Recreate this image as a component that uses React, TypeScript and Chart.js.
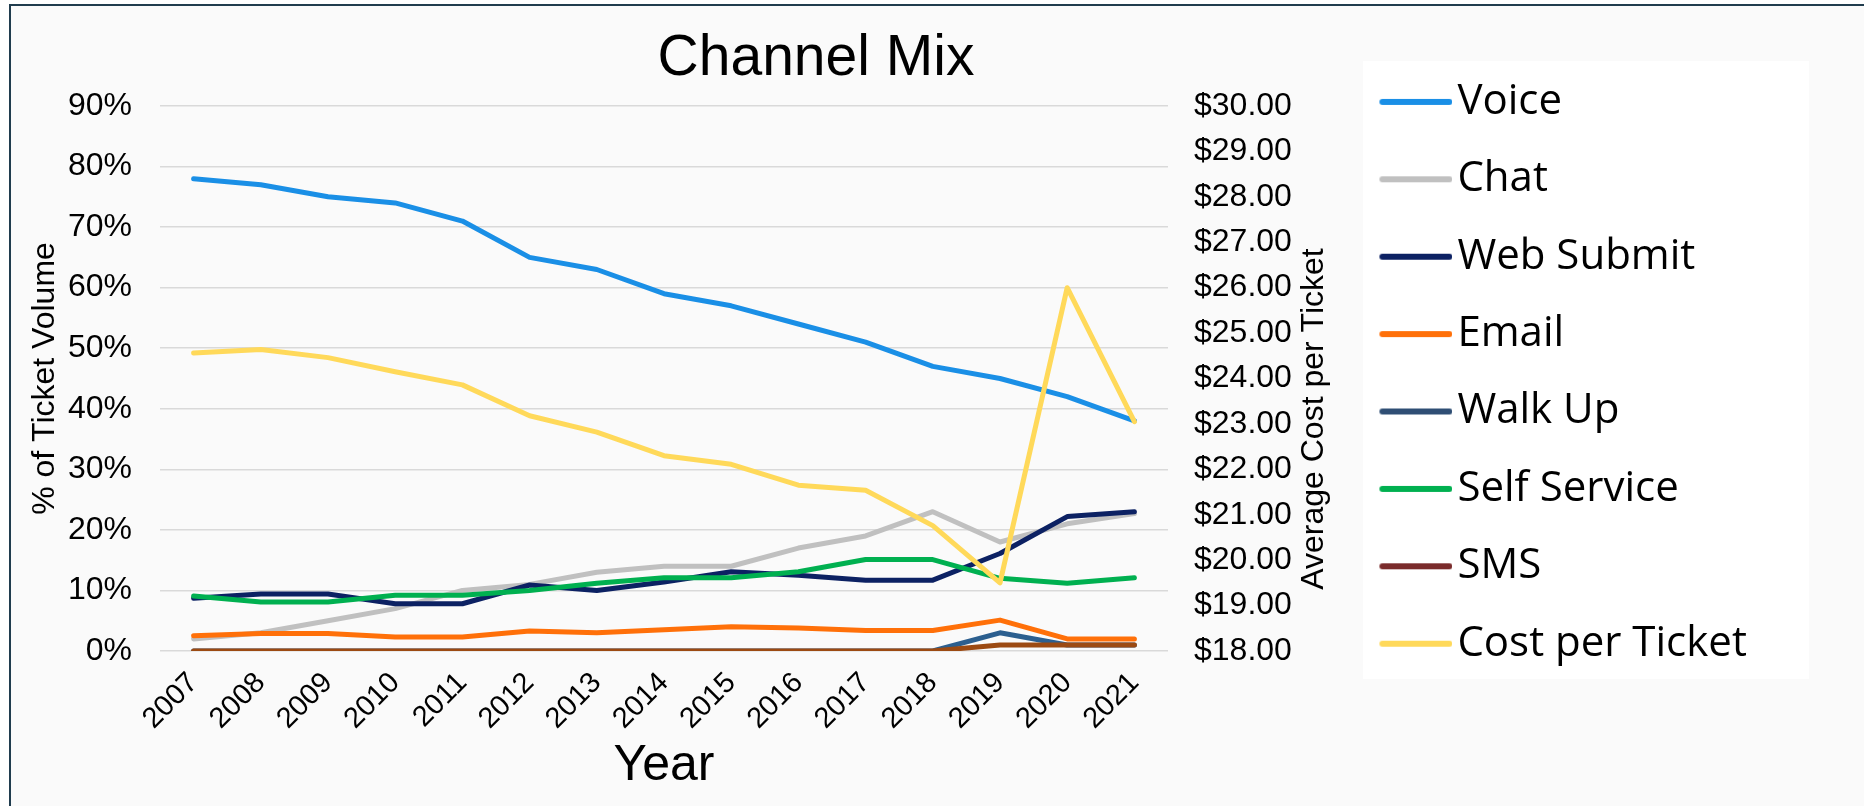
import React, { useEffect, useRef } from 'react';
import { Chart, registerables } from 'chart.js';

Chart.register(...registerables);

const years = ['2007', '2008', '2009', '2010', '2011', '2012', '2013', '2014', '2015', '2016', '2017', '2018', '2019', '2020', '2021'];

const voice = [78, 77, 75, 74, 71, 65, 63, 59, 57, 54, 51, 47, 45, 42, 38];
const chat = [2, 3, 5, 7, 10, 11, 13, 14, 14, 17, 19, 23, 18, 21, 22.7];
const webSubmit = [8.7, 9.4, 9.4, 7.8, 7.8, 10.9, 10, 11.4, 13.1, 12.5, 11.7, 11.7, 16.1, 22.2, 23];
const email = [2.5, 2.9, 2.9, 2.3, 2.3, 3.3, 3.0, 3.5, 4.0, 3.8, 3.4, 3.4, 5.1, 2.0, 2.0];
const walkUp = [0, 0, 0, 0, 0, 0, 0, 0, 0, 0, 0, 0, 3, 1, 1];
const selfService = [9.1, 8.1, 8.1, 9.2, 9.2, 10, 11.2, 12.1, 12.1, 13.1, 15.1, 15.1, 12, 11.2, 12.1];
const sms = [0, 0, 0, 0, 0, 0, 0, 0, 0, 0, 0, 0, 1, 1, 1];
const costPerTicket = [24.56, 24.64, 24.46, 24.15, 23.86, 23.18, 22.82, 22.3, 22.11, 21.65, 21.54, 20.76, 19.5, 26.0, 23.05];

const seriesNames = ['Voice', 'Chat', 'Web Submit', 'Email', 'Walk Up', 'Self Service', 'SMS', 'Cost per Ticket'];
const seriesValues = [voice, chat, webSubmit, email, walkUp, selfService, sms, costPerTicket];
const lineColors = ['#1a8fe6', '#c0c0c0', '#0c2163', '#ff7009', '#2c5f8f', '#00b050', '#9c4a12', '#ffd95a'];
const legendColors = ['#1a8fe6', '#c0c0c0', '#0c2163', '#ff7009', '#2f4e74', '#00b050', '#7a2b2b', '#ffd95a'];

const ARIAL = "'Liberation Sans', Arial, sans-serif";
const LEGEND_FAMILY = "'Open Sans', sans-serif";

function makeLegendImage(color: string): HTMLCanvasElement {
  const c = document.createElement('canvas');
  c.width = 89;
  c.height = 10;
  const g = c.getContext('2d')!;
  g.strokeStyle = color;
  g.lineWidth = 6;
  g.lineCap = 'round';
  g.beginPath();
  g.moveTo(19, 5);
  g.lineTo(86, 5);
  g.stroke();
  return c;
}

export default function App() {
  const ref = useRef<HTMLCanvasElement | null>(null);

  useEffect(() => {
    const canvas = ref.current;
    if (!canvas) return;
    const legendImgs = legendColors.map(makeLegendImage);

    const legendFont = 42;
    const legendPad = 35.4;
    const boxW = 57;
    const legendBoxW = 200; // layout width reserved for the legend
    const legendLeft = 1344;
    const padRight = 1864 - legendLeft - legendBoxW; // 320
    const titleCenter = 816;
    const padLeft = 0;
    const padTop = 45.5;
    const plotLeft = 160;
    const plotRight = 1168;

    const layoutPlugin = {
      id: 'layoutTweaks',
      afterLayout(chart: any) {
        const lg = chart.legend;
        if (lg) {
          lg.right = chart.width;
          lg.width = lg.right - lg.left;
        }
        const t = chart.titleBlock;
        if (t) {
          const d = titleCenter - (t.left + t.right) / 2;
          t.left += d;
          t.right += d;
        }
      },
      beforeDraw(chart: any) {
        const lg = chart.legend;
        if (!lg) return;
        const ctx = chart.ctx;
        ctx.save();
        ctx.fillStyle = '#ffffff';
        ctx.fillRect(lg.left + 19, 61, 446, 618);
        ctx.restore();
      },
    };

    const rightTitlePlugin = {
      id: 'rightTitle',
      afterDraw(chart: any) {
        const s = chart.scales.y1;
        const ctx = chart.ctx;
        ctx.save();
        ctx.translate(s.left + 146, chart.chartArea.top + 313);
        ctx.rotate(-Math.PI / 2);
        ctx.font = `32px ${ARIAL}`;
        ctx.fillStyle = '#000';
        ctx.textAlign = 'center';
        ctx.textBaseline = 'middle';
        ctx.fillText('Average Cost per Ticket', 0, 0);
        ctx.restore();
      },
    };

    const chart = new Chart(canvas, {
      type: 'line',
      data: {
        labels: years,
        datasets: seriesNames.map((name, i) => ({
          label: name,
          data: seriesValues[i],
          borderColor: lineColors[i],
          backgroundColor: lineColors[i],
          borderWidth: 5,
          pointRadius: 0,
          pointHoverRadius: 0,
          borderCapStyle: 'round',
          borderJoinStyle: 'round',
          tension: 0,
          fill: false,
          yAxisID: i === 7 ? 'y1' : 'y',
          order: 7 - i,
        })),
      },
      options: {
        responsive: false,
        animation: false,
        devicePixelRatio: 1,
        events: [],
        layout: { padding: { left: padLeft, right: padRight, top: padTop, bottom: 0 } },
        plugins: {
          title: {
            display: true,
            text: 'Channel Mix',
            fullSize: true,
            color: '#000',
            font: { family: ARIAL, size: 57, weight: 'normal', lineHeight: 0.5 },
            padding: { top: 59 - padTop - 14.25, bottom: 106 - padTop - 28.5 - (59 - padTop - 14.25) },
          },
          legend: {
            display: true,
            position: 'right',
            align: 'start',
            fullSize: true,
            maxWidth: legendBoxW,
            labels: {
              usePointStyle: true,
              pointStyleWidth: boxW,
              padding: legendPad,
              color: '#000',
              font: { family: LEGEND_FAMILY, size: legendFont },
              generateLabels: (ch: any) => {
                const items = Chart.defaults.plugins.legend.labels.generateLabels(ch);
                items.sort((a: any, b: any) => a.datasetIndex - b.datasetIndex);
                return items.map((it: any) => ({ ...it, pointStyle: legendImgs[it.datasetIndex] }));
              },
            },
          },
          tooltip: { enabled: false },
        },
        scales: {
          x: {
            offset: true,
            grid: { display: false, drawTicks: false },
            border: { display: false },
            ticks: {
              minRotation: 45,
              maxRotation: 45,
              autoSkip: false,
              padding: 15,
              color: '#000',
              font: { family: ARIAL, size: 29 },
            },
            title: {
              display: true,
              text: 'Year',
              color: '#000',
              font: { family: ARIAL, size: 50, lineHeight: 1.2 },
              padding: { top: 0, bottom: 9.5 },
            },
            afterFit: (s: any) => {
              s.height = 155;
            },
          },
          y: {
            position: 'left',
            min: 0,
            max: 90,
            ticks: {
              stepSize: 10,
              padding: 28,
              color: '#000',
              font: { family: ARIAL, size: 32 },
              callback: (v: any) => `${v}%`,
            },
            grid: { color: '#d9d9d9', lineWidth: 1.5, drawTicks: false },
            border: { display: false },
            title: {
              display: true,
              text: '% of Ticket Volume',
              color: '#000',
              font: { family: ARIAL, size: 32, lineHeight: 1.2 },
              padding: { top: 45 - padLeft - 19.2, bottom: 0 },
            },
            afterFit: (s: any) => {
              s.width = plotLeft - padLeft;
            },
          },
          y1: {
            position: 'right',
            min: 18,
            max: 30,
            ticks: {
              stepSize: 1,
              padding: 26,
              color: '#000',
              font: { family: ARIAL, size: 32 },
              callback: (v: any) => `$${Number(v).toFixed(2)}`,
            },
            grid: { display: false, drawTicks: false },
            border: { display: false },
            afterFit: (s: any) => {
              s.width = legendLeft - plotRight;
            },
          },
        },
      } as any,
      plugins: [layoutPlugin, rightTitlePlugin],
    });

    return () => {
      chart.destroy();
    };
  }, []);

  return (
    <div style={{ position: 'fixed', left: 0, top: 0, width: 1864, height: 806, background: '#ffffff', overflow: 'hidden' }}>
      <div
        style={{
          position: 'absolute',
          left: 9,
          top: 4,
          width: 2000,
          height: 1000,
          borderLeft: '2px solid #203c4e',
          borderTop: '2.5px solid #203c4e',
          background: '#fafafa',
        }}
      />
      <canvas ref={ref} width={1864} height={806} style={{ position: 'absolute', left: 0, top: 0 }} />
    </div>
  );
}
